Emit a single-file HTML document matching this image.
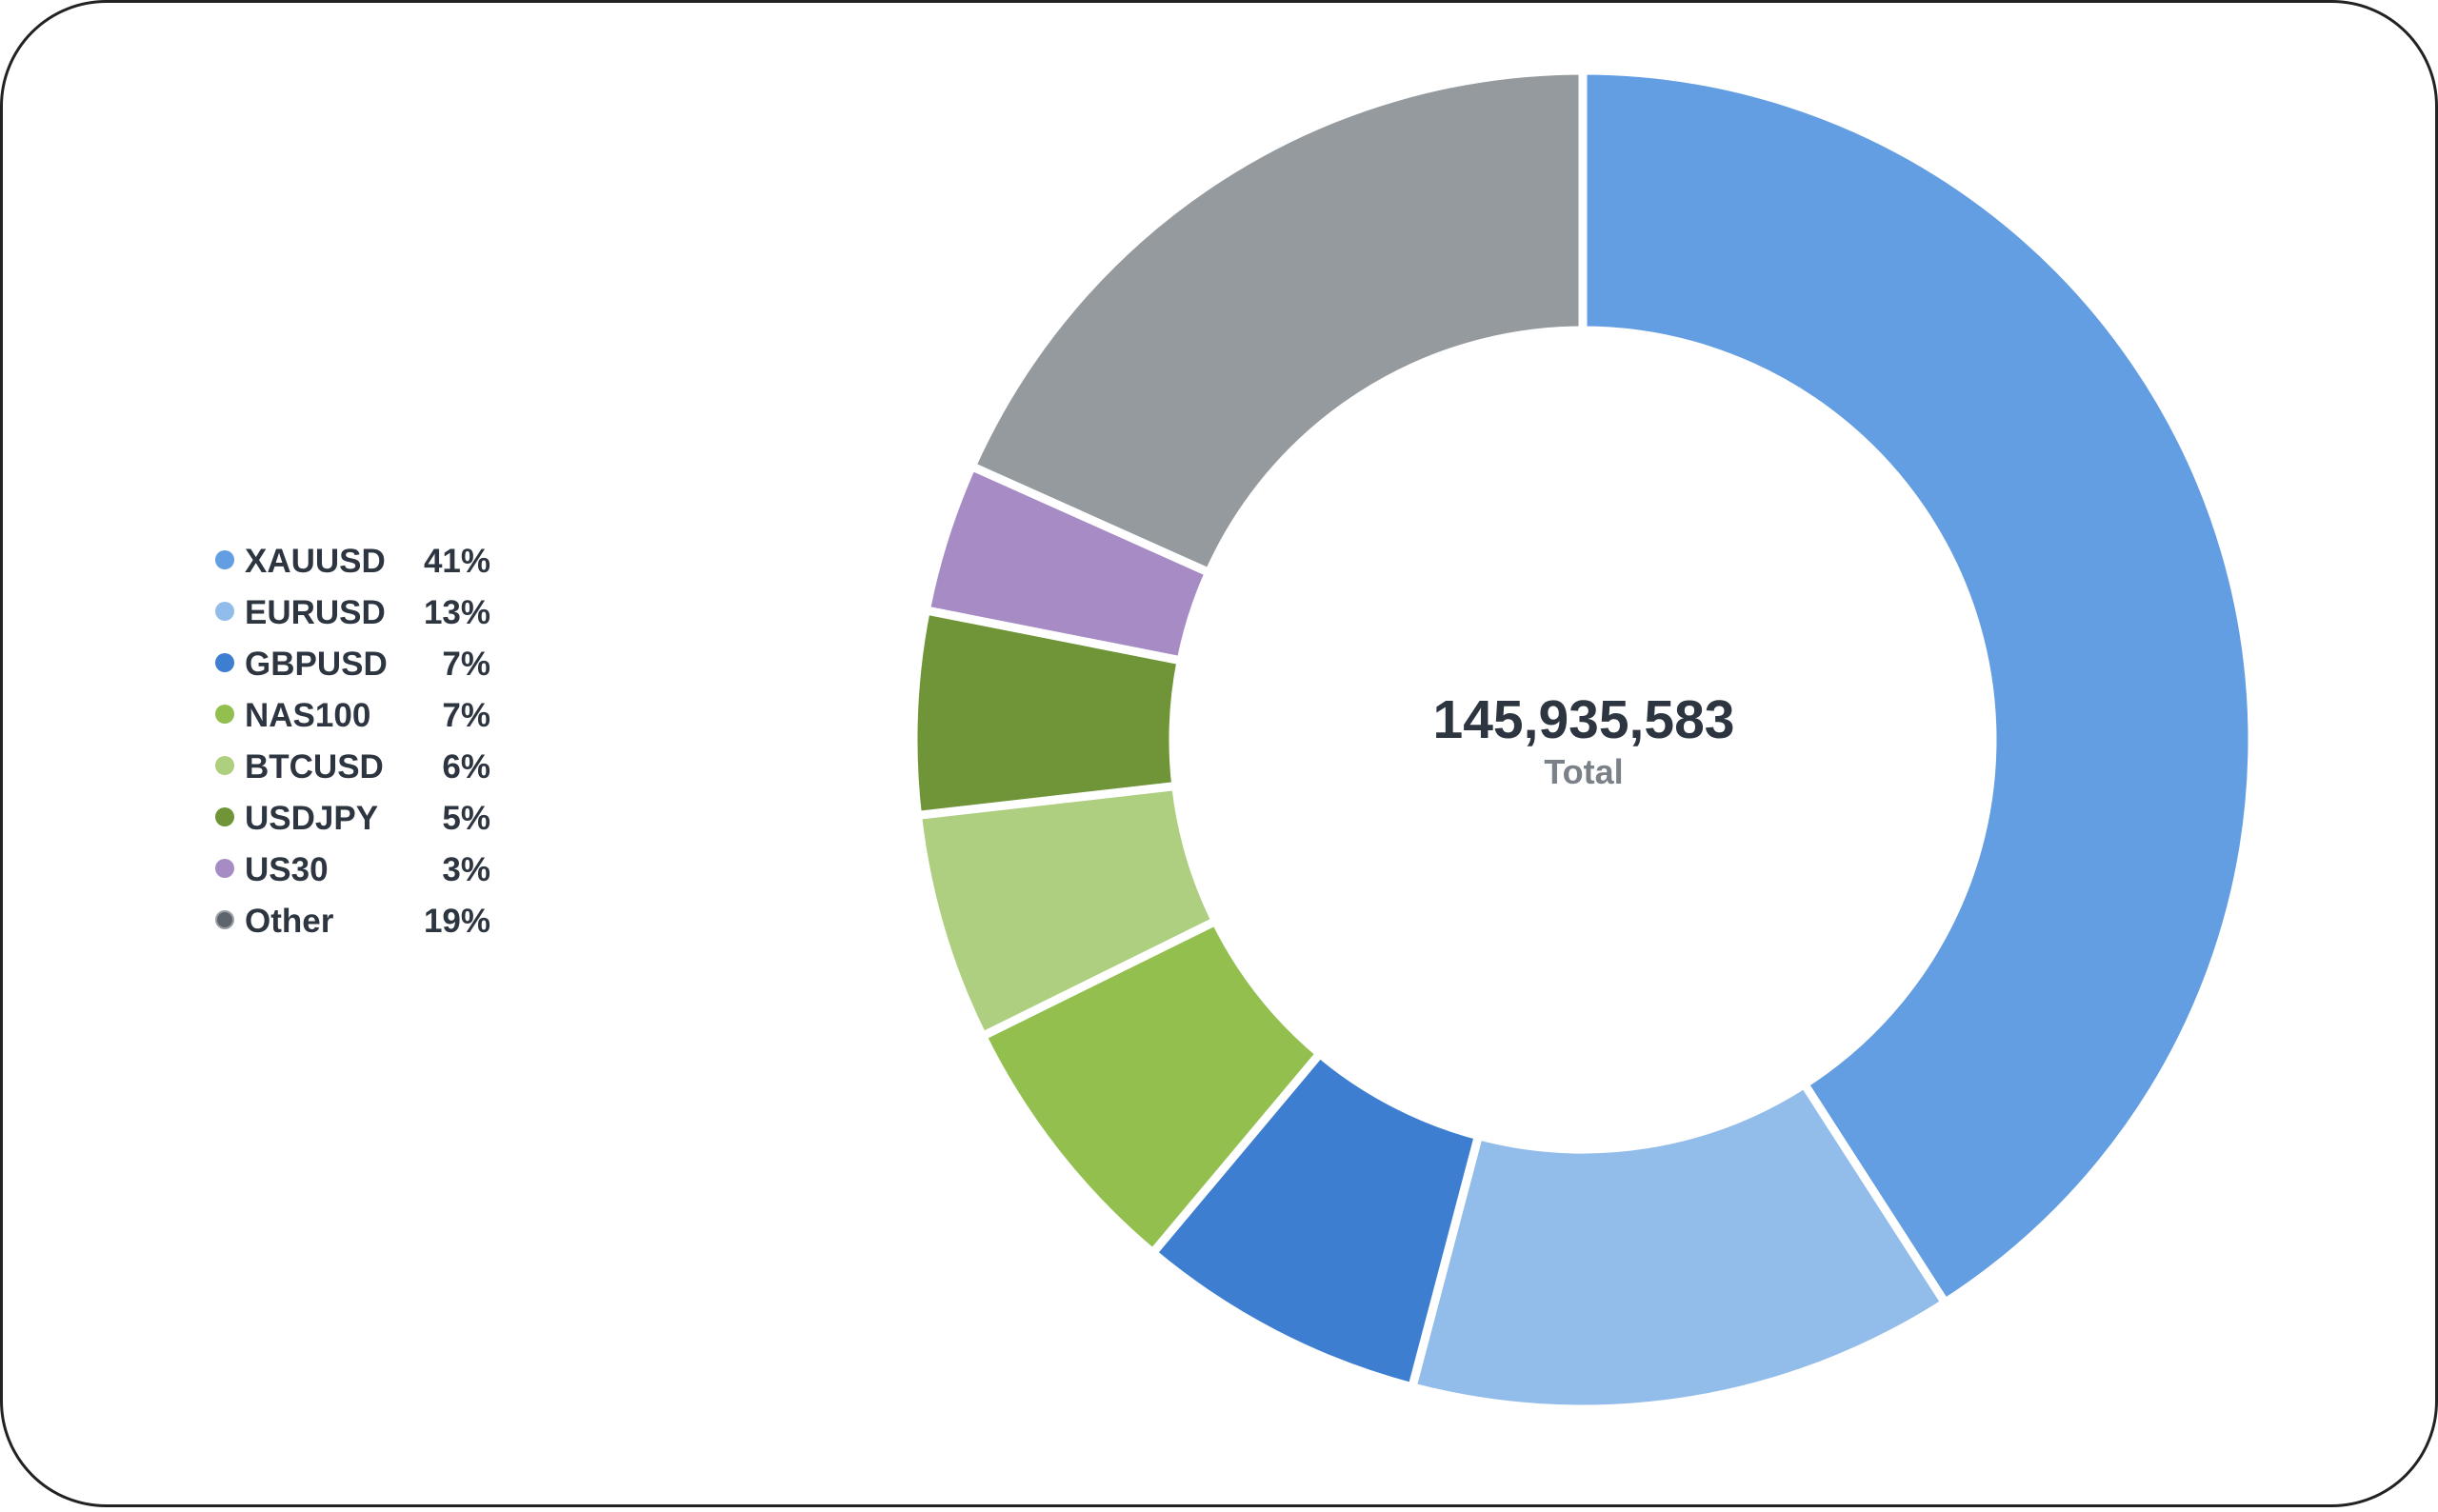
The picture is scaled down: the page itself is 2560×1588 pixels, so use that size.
<!DOCTYPE html>
<html><head><meta charset="utf-8"><style>
html,body{margin:0;padding:0;background:#fff;}
body{width:2560px;height:1583px;overflow:hidden;}
</style></head><body>
<svg id="s" width="2560" height="1583" viewBox="0 0 2560 1583" xmlns="http://www.w3.org/2000/svg" font-family="Liberation Sans, sans-serif">
<rect x="1.5" y="1.5" width="2557" height="1580" rx="110" ry="110" fill="#fff" stroke="#222" stroke-width="3"/>
<g id="pie"></g>
<text x="1663" y="775" text-anchor="middle" font-size="57" font-weight="bold" fill="#2d3540">145,935,583</text>
<text x="1663" y="823" text-anchor="middle" font-size="36" font-weight="bold" fill="#7b8189">Total</text>
<g font-size="35" fill="#2d3540" font-weight="bold">
<circle cx="236" cy="588" r="10" fill="#639DE2"/><text x="257" y="601">XAUUSD</text><text x="515" y="601" text-anchor="end">41%</text>
<circle cx="236" cy="642" r="10" fill="#92BCEA"/><text x="257" y="655">EURUSD</text><text x="515" y="655" text-anchor="end">13%</text>
<circle cx="236" cy="696" r="10" fill="#3D7ED1"/><text x="257" y="709">GBPUSD</text><text x="515" y="709" text-anchor="end">7%</text>
<circle cx="236" cy="750" r="10" fill="#93BF4F"/><text x="257" y="763">NAS100</text><text x="515" y="763" text-anchor="end">7%</text>
<circle cx="236" cy="804" r="10" fill="#AECF80"/><text x="257" y="817">BTCUSD</text><text x="515" y="817" text-anchor="end">6%</text>
<circle cx="236" cy="858" r="10" fill="#6F9538"/><text x="257" y="871">USDJPY</text><text x="515" y="871" text-anchor="end">5%</text>
<circle cx="236" cy="912" r="10" fill="#A68BC5"/><text x="257" y="925">US30</text><text x="515" y="925" text-anchor="end">3%</text>
<circle cx="236" cy="966" r="9" fill="#5d646b" stroke="#9aa0a5" stroke-width="2"/><text x="257" y="979">Other</text><text x="515" y="979" text-anchor="end">19%</text>
</g>
</svg>
<script>
var cx=1662,cy=777,R=703,r=430;
var cum=[0,0.409,0.541,0.611,0.677,0.732,0.781,0.817,1];
var cols=["#639DE2","#92BCEA","#3D7ED1","#93BF4F","#AECF80","#6F9538","#A68BC5","#949A9E"];
function pt(rad,f){var a=f*2*Math.PI;return [cx+rad*Math.sin(a),cy-rad*Math.cos(a)];}
var g=document.getElementById("pie"),h="";
for(var i=0;i<8;i++){var a=cum[i],b=cum[i+1],lg=(b-a)>0.5?1:0;
var p1=pt(R,a),p2=pt(R,b),p3=pt(r,b),p4=pt(r,a);
h+='<path d="M'+p1[0]+' '+p1[1]+' A'+R+' '+R+' 0 '+lg+' 1 '+p2[0]+' '+p2[1]+' L'+p3[0]+' '+p3[1]+' A'+r+' '+r+' 0 '+lg+' 0 '+p4[0]+' '+p4[1]+' Z" fill="'+cols[i]+'" stroke="#fff" stroke-width="9" stroke-linejoin="miter"/>';}
g.innerHTML=h;
</script>
</body></html>
